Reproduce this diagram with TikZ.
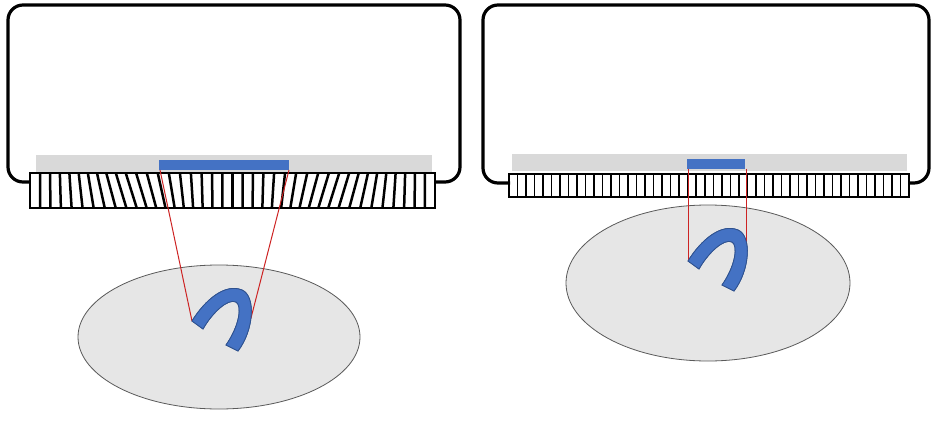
\documentclass[tikz,border=0pt]{standalone}
\usepackage{xcolor}
\usepackage{tikz}

\definecolor{stripgray}{RGB}{217,217,217}
\definecolor{lensblue}{RGB}{68,114,196}
\definecolor{lensedge}{RGB}{47,82,143}
\definecolor{rayred}{RGB}{205,35,35}
\definecolor{bodygray}{RGB}{230,230,230}
\definecolor{bodyedge}{RGB}{90,90,90}

\tikzset{
  horseshoe/.pic={
    \filldraw[fill=lensblue,draw=lensedge,line width=0.8pt]
      (0,0) .. controls (13,-21) and (33,-38) .. (50,-31)
            .. controls (64,-25) and (62,9) .. (46,30)
      -- (34,24) .. controls (48,4) and (50,-16) .. (44,-19)
            .. controls (36,-23) and (20,-8) .. (11,8) -- cycle;
    \coordinate (-tip) at (0,0);
  }
}

\begin{document}
\begin{tikzpicture}[x=1pt,y=-1pt,
    housing/.style={line width=3.2pt,rounded corners=15pt},
    frame/.style={line width=2.8pt},
    slat/.style={line width=2.5pt},
    ray/.style={rayred,line width=1pt}]
    \useasboundingbox (0,0) rectangle (932,425);

    % left housing
    \draw[housing] (30,182) -- (8,182) -- (8,5) -- (460,5) -- (460,182) -- (435,182);
    \fill[stripgray] (36,155) rectangle (432,172);
    \fill[lensblue] (159,160) rectangle (289,170);
    \coordinate (barLa) at (160,170);
    \coordinate (barLb) at (289,170);

    % left grating, slats fanned
    \foreach \i in {1,...,39} {
      \pgfmathsetmacro{\sx}{30+\i*10.125}
      \pgfmathsetmacro{\dx}{5.5*sin(9*\i)*sin(9*\i)*sin(9*\i)}
      \draw[slat] (\sx-\dx,173) -- (\sx+\dx,208);
    }
    \draw[frame] (30,173) rectangle (435,208);

    % left body
    \filldraw[fill=bodygray,draw=bodyedge,line width=0.8pt] (219,337) ellipse [x radius=141,y radius=72];
    \pic (hsL) at (192,321) {horseshoe};
    \coordinate (hitL) at (251,318);
    \draw[ray] (barLa) -- (hsL-tip);
    \draw[ray] (barLb) -- (hitL);
    \pic at (192,321) {horseshoe};

    % right housing
    \draw[housing] (510,183) -- (483,183) -- (483,5) -- (929,5) -- (929,183) -- (909,183);
    \fill[stripgray] (512,154) rectangle (907,171);
    \fill[lensblue] (687,159) rectangle (745,169);
    \coordinate (barRa) at (688,169);
    \coordinate (barRb) at (746,169);

    % right grating, straight slats
    \foreach \i in {1,...,46} {
      \pgfmathsetmacro{\sx}{509+\i*8.5106}
      \draw[line width=1.5pt] (\sx,174) -- (\sx,197);
    }
    \draw[frame,line width=2.2pt] (509,174) rectangle (909,197);

    % right body
    \filldraw[fill=bodygray,draw=bodyedge,line width=0.8pt] (708,283) ellipse [x radius=142,y radius=78];
    \pic (hsR) at (688,261) {horseshoe};
    \coordinate (hitR) at (746,247);
    \draw[ray] (barRa) -- (hsR-tip);
    \draw[ray] (barRb) -- (hitR);
    \pic at (688,261) {horseshoe};
  \end{tikzpicture}
\end{document}
